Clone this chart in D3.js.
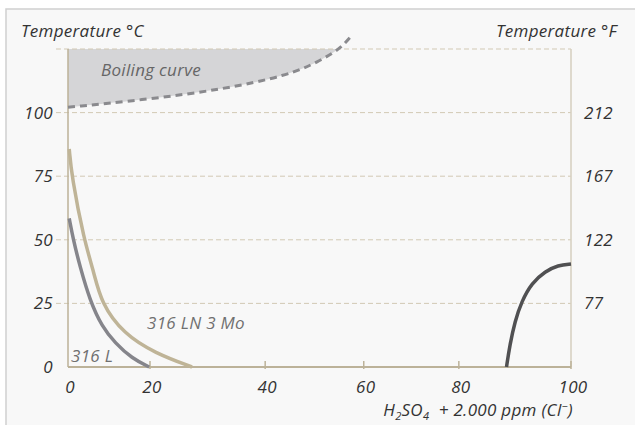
<html>
<head>
<script src="https://cdnjs.cloudflare.com/ajax/libs/d3/7.8.5/d3.min.js"></script>
<style>
body { margin: 0; background: #fff; }
text { font-family: "Open Sans", sans-serif; font-style: italic; fill: #333; letter-spacing: 0.3px; }
</style>
</head>
<body>
<svg id="canvas" width="635" height="425"></svg>
<script>
// x ticks (acid concentration), celsius ticks and matching fahrenheit labels
var xTicks = [0, 20, 40, 60, 80, 100];
var celsiusTicks = [0, 25, 50, 75, 100];
var fahrenheitAt = [25, 50, 75, 100];
var fahrenheitLabels = ['77', '122', '167', '212'];
var yTop = 125;

// curves: [concentration, temperature °C]
var boiling = [[0, 102.1], [19.5, 105.2], [32.5, 109.1], [44.6, 114.6], [50.7, 119.9], [55.2, 125], [57.6, 130.4]];
var s316L = [[0.3, 58.4], [1.3, 50], [2.9, 39.6], [5.4, 25.9], [8.3, 15.9], [11.5, 9.4], [15.6, 3.4], [19.8, 0]];
var s316LN = [[0.3, 85.7], [0.9, 75], [3.9, 50], [6.2, 38], [8.1, 25], [13.6, 13], [20.9, 5.4], [27.3, 0]];
var sDark = [[88.5, 0], [89.1, 8.7], [90, 17.9], [91.2, 25.8], [93, 33], [95.4, 37.6], [97.7, 40], [100, 40.5]];

var svg = d3.select('#canvas');
var pLeft = 68, pRight = 571, pTop = 49, pBottom = 367;
var w = pRight - pLeft;

// frame
svg.append('rect').attr('x', 6).attr('y', 9).attr('width', 640).attr('height', 430)
  .style('fill', '#f8f8f8').style('stroke', '#cfcfcf').style('stroke-width', 1.5);

// the original axis is not evenly spaced, so map each tick piecewise
var x = d3.scaleLinear().domain(xTicks)
  .range([0, 0.163, 0.392, 0.588, 0.777, 1].map(function(f) { return pLeft + f * w; }));
var y = d3.scaleLinear().domain([0, yTop]).range([pBottom, pTop]);

var g = svg.append('g');

svg.append('clipPath').attr('id', 'plot').append('rect')
  .attr('x', pLeft).attr('y', pTop).attr('width', w).attr('height', pBottom - pTop);

var smooth = d3.curveBasis;

// boiling area
g.append('path')
  .datum(boiling)
  .attr('clip-path', 'url(#plot)')
  .attr('d', d3.area().curve(smooth)
    .x(function(d) { return x(d[0]); })
    .y0(y(yTop))
    .y1(function(d) { return y(d[1]); }))
  .style('fill', '#d5d5d7');

// grid lines
var grid = celsiusTicks.slice(1).concat([yTop]);
g.selectAll('.grid').data(grid).enter().append('line')
  .attr('x1', pLeft - 12).attr('x2', pRight)
  .attr('y1', function(d) { return y(d); })
  .attr('y2', function(d) { return y(d); })
  .style('stroke', '#d2c9b4').style('stroke-width', 1)
  .style('stroke-dasharray', '5,3');

// axes lines
var axisColor = '#bcb299';
g.append('line').attr('x1', pLeft).attr('x2', pLeft).attr('y1', pTop).attr('y2', pBottom)
  .style('stroke', axisColor).style('stroke-width', 1.5);
g.append('line').attr('x1', pRight).attr('x2', pRight).attr('y1', pTop).attr('y2', pBottom)
  .style('stroke', '#d6cfbf').style('stroke-width', 1.5);
g.append('line').attr('x1', pLeft).attr('x2', pRight).attr('y1', pBottom).attr('y2', pBottom)
  .style('stroke', axisColor).style('stroke-width', 2);

g.selectAll('.xtick').data(xTicks.slice(1)).enter().append('line')
  .attr('x1', function(d) { return x(d); })
  .attr('x2', function(d) { return x(d); })
  .attr('y1', pBottom - 6).attr('y2', pBottom + 2)
  .style('stroke', axisColor).style('stroke-width', 1.5);

// curves
var line = d3.line().curve(smooth)
  .x(function(d) { return x(d[0]); })
  .y(function(d) { return y(d[1]); });

g.append('path').datum(boiling).attr('d', line)
  .style('fill', 'none').style('stroke', '#8a8a8e').style('stroke-width', 3)
  .style('stroke-dasharray', '7,5');

g.append('path').datum(s316LN).attr('d', line)
  .style('fill', 'none').style('stroke', '#bfb497').style('stroke-width', 3.5);
g.append('path').datum(s316L).attr('d', line)
  .style('fill', 'none').style('stroke', '#85858b').style('stroke-width', 3.5);
g.append('path').datum(sDark).attr('d', line)
  .style('fill', 'none').style('stroke', '#505052').style('stroke-width', 3.5);

// labels
var fs = '17px';
g.selectAll('.ylab').data(celsiusTicks).enter().append('text')
  .attr('x', 53).attr('y', function(d) { return y(d) + 6; })
  .attr('text-anchor', 'end').style('font-size', fs)
  .text(function(d) { return d; });

g.selectAll('.flab').data(fahrenheitAt).enter().append('text')
  .attr('x', 584).attr('y', function(d) { return y(d) + 6; })
  .style('font-size', fs)
  .text(function(d, i) { return fahrenheitLabels[i]; });

g.selectAll('.xlab').data(xTicks).enter().append('text')
  .attr('x', function(d) { return x(d) + 2; }).attr('y', 393)
  .attr('text-anchor', 'middle').style('font-size', fs)
  .text(function(d) { return d; });

svg.append('text').attr('x', 21).attr('y', 37).style('font-size', fs).text('Temperature °C');
svg.append('text').attr('x', 617).attr('y', 37).attr('text-anchor', 'end').style('font-size', fs).text('Temperature °F');

var xt = svg.append('text').attr('x', 573).attr('y', 416).attr('text-anchor', 'end').style('font-size', fs);
xt.append('tspan').text('H');
xt.append('tspan').attr('dy', 4).style('font-size', '11px').text('2');
xt.append('tspan').attr('dy', -4).text('SO');
xt.append('tspan').attr('dy', 4).style('font-size', '11px').text('4');
xt.append('tspan').attr('dy', -4).text('\u00a0 + 2.000 ppm (Cl');
xt.append('tspan').attr('dy', -6).style('font-size', '11px').text('\u2212');
xt.append('tspan').attr('dy', 6).text(')');

svg.append('text').attr('x', 101).attr('y', 76).style('font-size', fs).style('fill', '#666').text('Boiling curve');
svg.append('text').attr('x', 147).attr('y', 329).style('font-size', fs).style('fill', '#707070').text('316 LN 3 Mo');
svg.append('text').attr('x', 71).attr('y', 362).style('font-size', fs).style('fill', '#707070').text('316 L');
</script>
</body>
</html>
